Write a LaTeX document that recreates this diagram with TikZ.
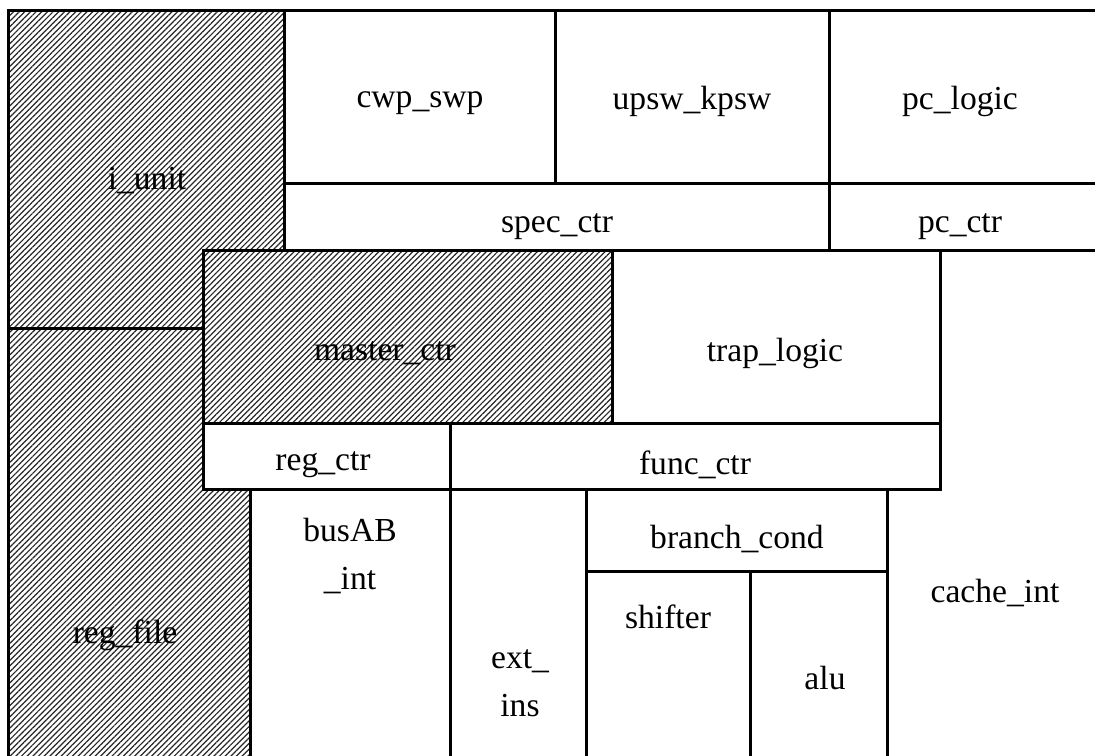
\documentclass[tikz,border=0pt]{standalone}
\usepackage{fontspec}
\setmainfont{Liberation Serif}
\usetikzlibrary{patterns.meta}
\begin{document}
\begin{tikzpicture}[x=0.5pt,y=-0.5pt,
  wall/.style={line width=1.5pt,line cap=rect},
  hatch/.style={pattern={Lines[angle=45,distance=2pt,line width=0.6pt]},pattern color=black!85},
  lbl/.style={font=\fontsize{16.8}{24}\selectfont,inner sep=0pt,align=center}]
\useasboundingbox (0,0) rectangle (1095,755);
\clip (0,0) rectangle (1095,755);
% hatched regions
\fill[hatch] (8,10) -- (284,10) -- (284,250) -- (203,250) -- (203,328) -- (8,328) -- cycle;
\fill[hatch] (8,328) -- (203,328) -- (203,489) -- (250,489) -- (250,760) -- (8,760) -- cycle;
\fill[hatch] (203,250) rectangle (612,423);
% walls
\draw[wall] (8,760) -- (8,10) -- (1100,10);
\draw[wall] (284,10) -- (284,250);
\draw[wall] (8,328) -- (203,328);
\draw[wall] (284,183) -- (1100,183);
\draw[wall] (203,250) -- (1100,250);
\draw[wall] (555,10) -- (555,183);
\draw[wall] (829,10) -- (829,250);
\draw[wall] (203,250) -- (203,489) -- (940,489) -- (940,250);
\draw[wall] (203,423) -- (940,423);
\draw[wall] (612,250) -- (612,423);
\draw[wall] (450,423) -- (450,760);
\draw[wall] (250,489) -- (250,760);
\draw[wall] (586,489) -- (586,760);
\draw[wall] (887,489) -- (887,760);
\draw[wall] (586,571) -- (887,571);
\draw[wall] (750,571) -- (750,760);
% labels
\node[lbl] (iunit) at (147,181) {i\_unit};
\node[lbl] (cwp) at (420,103) {cwp\_swp};
\node[lbl] (upsw) at (692,101) {upsw\_kpsw};
\node[lbl] (pclogic) at (960,101) {pc\_logic};
\node[lbl] (spec) at (557,227) {spec\_ctr};
\node[lbl] (pcctr) at (960,227) {pc\_ctr};
\node[lbl] (master) at (385,353) {master\_ctr};
\node[lbl] (trap) at (775,353) {trap\_logic};
\node[lbl] (regctr) at (323,465) {reg\_ctr};
\node[lbl] (func) at (695,465) {func\_ctr};
\node[lbl] (busab) at (350,556) {busAB\\\_int};
\node[lbl] (extins) at (520,683) {ext\_\\ins};
\node[lbl] (branch) at (737,539) {branch\_cond};
\node[lbl] (shifter) at (668,617) {shifter};
\node[lbl] (alu) at (825,678) {alu};
\node[lbl] (cache) at (995,593) {cache\_int};
\node[lbl] (regfile) at (125,635) {reg\_file};
\end{tikzpicture}
\end{document}
